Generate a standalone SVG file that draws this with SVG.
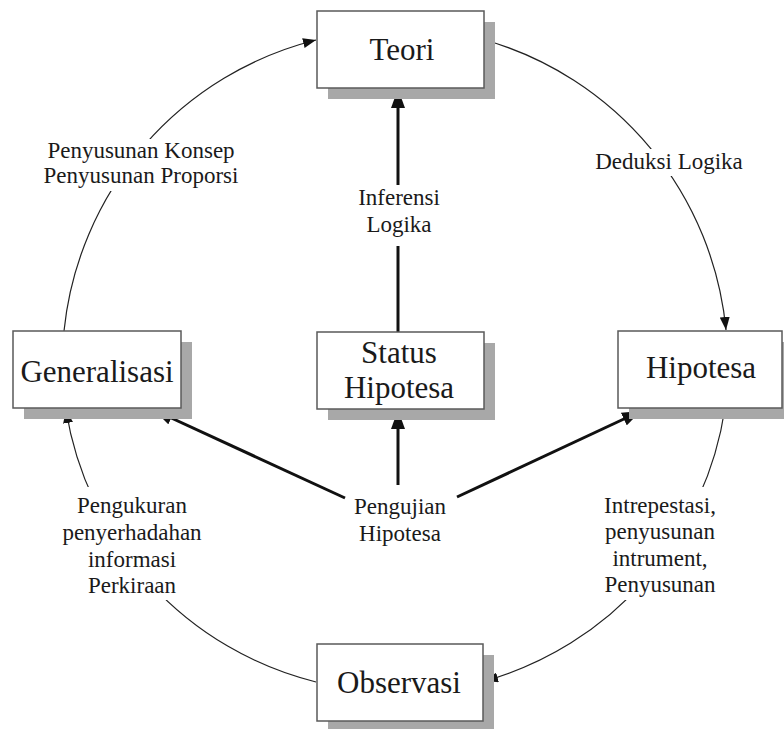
<svg xmlns="http://www.w3.org/2000/svg" width="784" height="729" viewBox="0 0 784 729">
  <style>
    .box { fill: #ffffff; stroke: #5a5a5a; stroke-width: 1.5; }
    .shadow { fill: #a8a8a8; }
    .title { font-family: "Liberation Serif", "Times New Roman", serif; font-size: 31px; fill: #1a1a1a; text-anchor: middle; }
    .label { font-family: "Liberation Serif", "Times New Roman", serif; font-size: 23px; fill: #1a1a1a; text-anchor: middle; }
    .arc { fill: none; stroke: #222; stroke-width: 1.2; marker-end: url(#tipThin); }
    .bold { fill: none; stroke: #111; stroke-width: 3; marker-end: url(#tipBold); }
    .mask { fill: #ffffff; }
  </style>
  <defs>
    <marker id="tipThin" markerUnits="userSpaceOnUse" markerWidth="14" markerHeight="10" refX="13" refY="5" orient="auto">
      <path d="M0,0 L13,5 L0,10 Z" fill="#111"/>
    </marker>
    <marker id="tipBold" markerUnits="userSpaceOnUse" markerWidth="20" markerHeight="14" refX="19" refY="7" orient="auto">
      <path d="M0,0 L19,7 L0,14 Z" fill="#111"/>
    </marker>
  </defs>

  <rect width="784" height="729" fill="#ffffff"/>

  <!-- connectors -->
  <g id="connectors">
    <!-- outer cycle -->
    <path class="arc" d="M64,331 A335,335 0 0 1 316,40"/>
    <path class="arc" d="M485,40 A335,335 0 0 1 726,330"/>
    <path class="arc" d="M725,408 A335,335 0 0 1 485,681"/>
    <path class="arc" d="M316,682 A335,335 0 0 1 66,410"/>
    <!-- inner spokes -->
    <path class="bold" d="M398,333 L398,89"/>
    <path class="bold" d="M398,485 L398,410"/>
    <path class="bold" d="M345,498 L154,410"/>
    <path class="bold" d="M457,497 L641,411"/>
  </g>

  <!-- connector labels -->
  <g id="edge-labels">
    <rect class="mask" x="40" y="139" width="204" height="52"/>
    <text class="label" x="141" y="158">Penyusunan Konsep</text>
    <text class="label" x="141" y="183">Penyusunan Proporsi</text>

    <rect class="mask" x="592" y="149" width="156" height="27"/>
    <text class="label" x="669" y="169">Deduksi Logika</text>

    <rect class="mask" x="355" y="185" width="88" height="61"/>
    <text class="label" x="399" y="205">Inferensi</text>
    <text class="label" x="399" y="232">Logika</text>

    <text class="label" x="400" y="514">Pengujian</text>
    <text class="label" x="400" y="541">Hipotesa</text>

    <rect class="mask" x="62" y="487" width="144" height="113"/>
    <text class="label" x="132" y="513">Pengukuran</text>
    <text class="label" x="132" y="540">penyerhadahan</text>
    <text class="label" x="132" y="567">informasi</text>
    <text class="label" x="132" y="593">Perkiraan</text>

    <rect class="mask" x="598" y="487" width="124" height="113"/>
    <text class="label" x="660" y="513">Intrepestasi,</text>
    <text class="label" x="660" y="539">penyusunan</text>
    <text class="label" x="660" y="566">intrument,</text>
    <text class="label" x="660" y="592">Penyusunan</text>
  </g>

  <!-- nodes -->
  <g id="teori">
    <rect class="shadow" x="328" y="22" width="167" height="77"/>
    <rect class="box" x="317" y="11" width="167" height="77"/>
    <text class="title" x="402" y="60">Teori</text>
  </g>
  <g id="generalisasi">
    <rect class="shadow" x="24" y="342" width="168" height="77"/>
    <rect class="box" x="13" y="331" width="168" height="77"/>
    <text class="title" x="97" y="382">Generalisasi</text>
  </g>
  <g id="status-hipotesa">
    <rect class="shadow" x="328" y="343" width="167" height="77"/>
    <rect class="box" x="317" y="332" width="167" height="77"/>
    <text class="title" x="399" y="363">Status</text>
    <text class="title" x="399" y="398">Hipotesa</text>
  </g>
  <g id="hipotesa">
    <rect class="shadow" x="629" y="342" width="164" height="77"/>
    <rect class="box" x="618" y="331" width="164" height="77"/>
    <text class="title" x="701" y="378">Hipotesa</text>
  </g>
  <g id="observasi">
    <rect class="shadow" x="328" y="655" width="166" height="77"/>
    <rect class="box" x="317" y="644" width="166" height="77"/>
    <text class="title" x="399" y="693">Observasi</text>
  </g>
</svg>
